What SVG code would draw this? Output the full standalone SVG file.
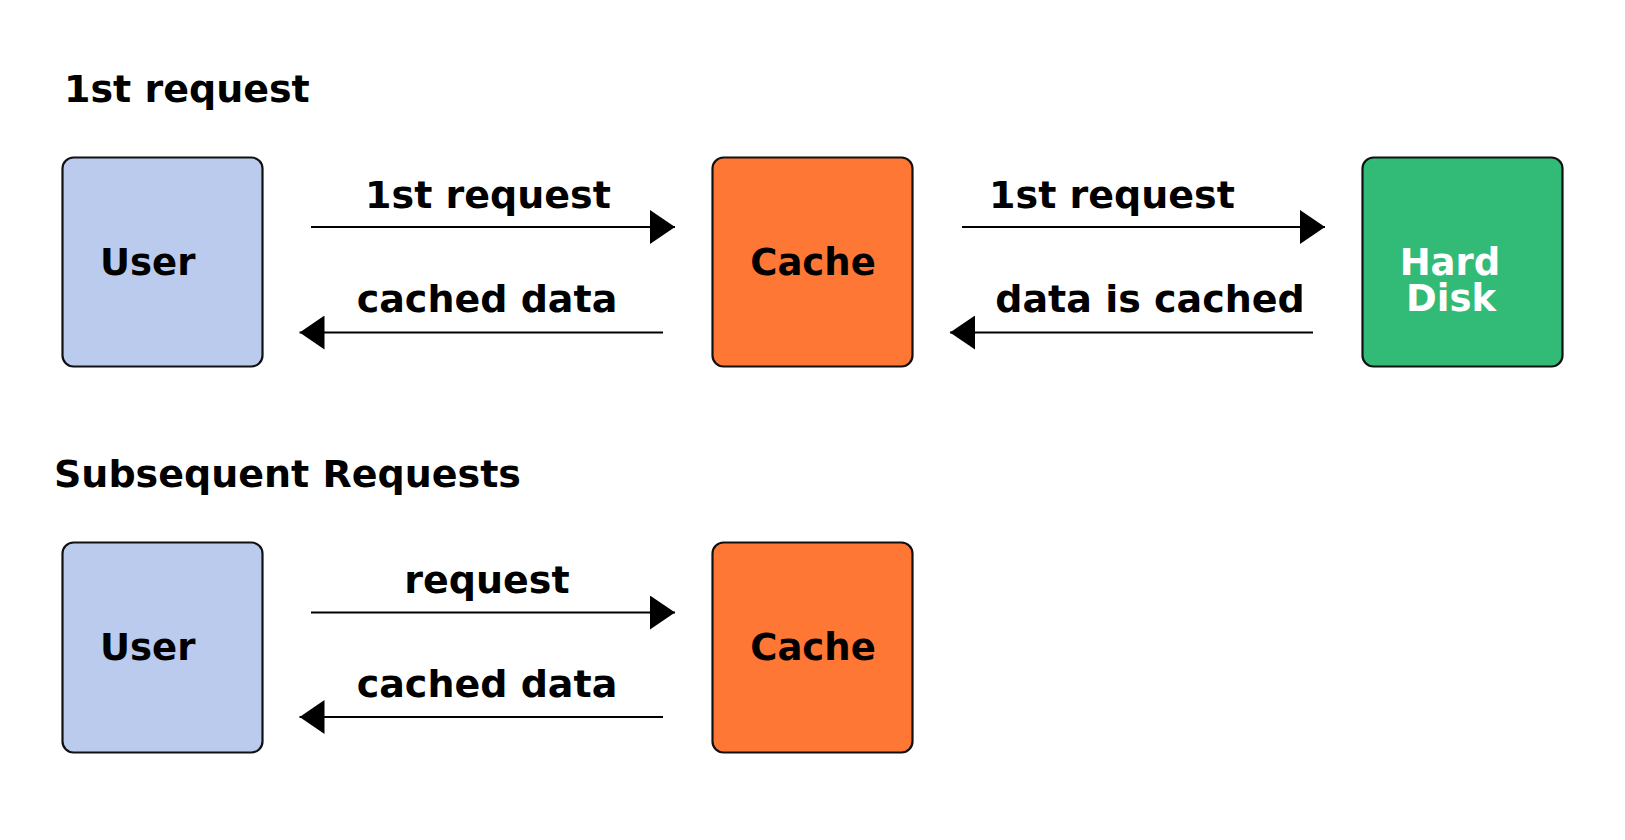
<svg xmlns="http://www.w3.org/2000/svg" width="1625" height="840" viewBox="0 0 1625 840">
<defs>
<style>
text{font-family:"DejaVu Sans",Verdana,sans-serif;font-weight:bold;font-size:38px;fill:#000}
.n{font-size:37px}
.c{text-anchor:middle}
.box{stroke:#111;stroke-width:2.2}
.user{fill:#bbcbee}
.cache{fill:#fe7734}
.disk{fill:#32bb76}
.ln{stroke:#000;stroke-width:2.2;fill:none}
</style>
<marker id="ah" viewBox="0 0 25 34" refX="25" refY="17" markerWidth="25" markerHeight="34" markerUnits="userSpaceOnUse" orient="auto">
<path d="M0,0 L25,17 L0,34 Z" fill="#000"/>
</marker>
</defs>
<rect width="1625" height="840" fill="#fff"/>
<text x="64" y="101.5">1st request</text>
<text x="54" y="487">Subsequent Requests</text>
<g id="user1"><rect class="box user" x="62.5" y="157.5" width="200" height="209" rx="11"/><text class="n" x="100" y="275">User</text></g>
<g id="cache1"><rect class="box cache" x="712.5" y="157.5" width="200" height="209" rx="11"/><text class="n c" x="813" y="275">Cache</text></g>
<g id="disk"><rect class="box disk" x="1362.5" y="157.5" width="200" height="209" rx="11"/><text class="n c" x="1450" y="275" style="fill:#fff">Hard</text><text class="n c" x="1451" y="311" style="fill:#fff">Disk</text></g>
<g id="user2"><rect class="box user" x="62.5" y="542.5" width="200" height="210" rx="11"/><text class="n" x="100" y="660">User</text></g>
<g id="cache2"><rect class="box cache" x="712.5" y="542.5" width="200" height="210" rx="11"/><text class="n c" x="813" y="660">Cache</text></g>
<g id="connectors">
<line class="ln" x1="311" y1="227" x2="675" y2="227" marker-end="url(#ah)"/>
<line class="ln" x1="663" y1="332.5" x2="299.5" y2="332.5" marker-end="url(#ah)"/>
<line class="ln" x1="962" y1="227" x2="1325" y2="227" marker-end="url(#ah)"/>
<line class="ln" x1="1313" y1="332.5" x2="950" y2="332.5" marker-end="url(#ah)"/>
<line class="ln" x1="311" y1="612.5" x2="675" y2="612.5" marker-end="url(#ah)"/>
<line class="ln" x1="663" y1="717" x2="299.5" y2="717" marker-end="url(#ah)"/>
<text class="c" x="488" y="207.5">1st request</text>
<text class="c" x="487" y="312">cached data</text>
<text class="c" x="1112" y="207.5">1st request</text>
<text class="c" x="1150" y="312">data is cached</text>
<text class="c" x="487" y="592.5">request</text>
<text class="c" x="487" y="696.5">cached data</text>
</g>
</svg>
